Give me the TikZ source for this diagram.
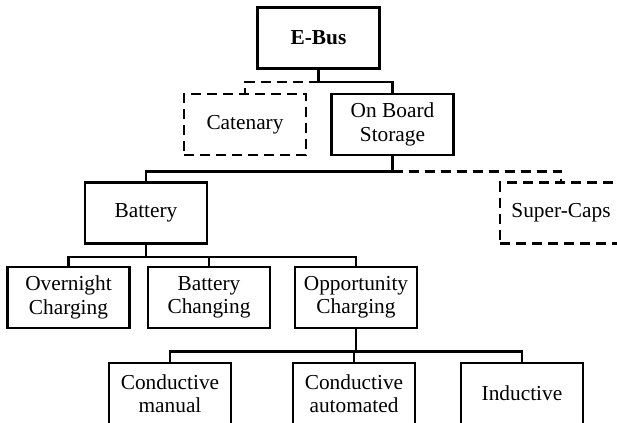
\documentclass[tikz,border=0pt]{standalone}
\usepackage{fontspec}
\setmainfont{Liberation Serif}
\usepackage{tikz}

\begin{document}
\begin{tikzpicture}[x=0.75pt, y=-0.75pt, line width=2pt,
	every node/.style={font=\fontsize{16}{17.5}\selectfont, align=center},
	box/.style={draw, minimum width=91.5pt, minimum height=45.75pt, inner sep=0pt},
	optbox/.style={box, dash pattern=on 7.5pt off 4.5pt},
	link/.style={line cap=rect},
	optlink/.style={dash pattern=on 7.5pt off 4.5pt}]
	\useasboundingbox (0,0) rectangle (617,422);
	% top levels
	\node[box, font=\fontsize{16}{17.5}\selectfont\bfseries] (ebus) at (318.5,38) {E-Bus};
	\node[optbox] (cat) at (245,124.5) {Catenary};
	\node[box] (obs) at (392.5,124.5) {On Board\\Storage};
	\node[box] (bat) at (146,213) {Battery};
	\node[optbox] (caps) at (561,213) {Super-Caps};
	% charging
	\node[box] (ovn) at (68.5,297.5) {Overnight\\Charging};
	\node[box] (chg) at (209,297.5) {Battery\\Changing};
	\node[box] (opp) at (356,297.5) {Opportunity\\Charging};
	\node[box] (cm) at (170,393.5) {Conductive\\manual};
	\node[box] (ca) at (354,393.5) {Conductive\\automated};
	\node[box] (ind) at (522,393.5) {Inductive};
	% links
	\draw[link] (ebus.south) -- ++(0,12) -| (obs.north);
	\draw[optlink] (ebus.south) ++(0,12) -| (cat.north);
	\draw[link] (obs.south) -- ++(0,15) -| (bat.north);
	\draw[optlink] (obs.south) ++(0,15) -| (caps.north);
	\foreach \c in {ovn,chg,opp} \draw[link] (bat.south) -- ++(0,12) -| (\c.north);
	\foreach \c in {cm,ca,ind} \draw[link] (opp.south) -- ++(0,22) -| (\c.north);
\end{tikzpicture}
\end{document}
